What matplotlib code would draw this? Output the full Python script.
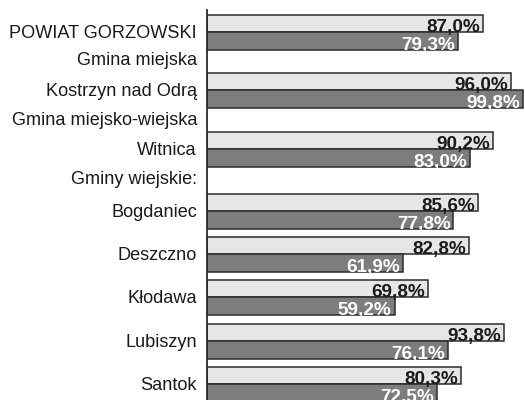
import matplotlib
matplotlib.use("Agg")
import matplotlib.pyplot as plt

# -----------------------------------------------------------------------------
# Data
# -----------------------------------------------------------------------------
bar_labels = ["POWIAT GORZOWSKI", "Kostrzyn nad Odrą", "Witnica", "Bogdaniec",
              "Deszczno", "Kłodawa", "Lubiszyn", "Santok"]
series_light = [87.0, 96.0, 90.2, 85.6, 82.8, 69.8, 93.8, 80.3]
series_dark = [79.3, 99.8, 83.0, 77.8, 61.9, 59.2, 76.1, 72.5]
header_labels = ["Gmina miejska", "Gmina miejsko-wiejska", "Gminy wiejskie:"]

# layout (pixel-like units, y grows downwards)
bar_rows = [32, 90, 149, 211, 254, 297, 341, 384]
header_rows = [59, 119, 178]
bar_h = 17.5

LIGHT = "#e6e6e8"
DARK = "#7d7d80"
EDGE = "#2b2b2b"

plt.rcParams['font.family'] = ['Liberation Sans', 'DejaVu Sans']

fig = plt.figure(figsize=(5.25, 4.0), dpi=100)
ax = fig.add_axes([207 / 525, 0.0, 318 / 525, 390 / 400])
ax.set_xlim(0, 100.4)
ax.set_ylim(400, 10)

ax.barh([r - bar_h / 2 for r in bar_rows], series_light, height=bar_h,
        color=LIGHT, edgecolor=EDGE, linewidth=1.1)
ax.barh([r + bar_h / 2 for r in bar_rows], series_dark, height=bar_h,
        color=DARK, edgecolor=EDGE, linewidth=1.1)

dx = 0.9
for r, a, b in zip(bar_rows, series_light, series_dark):
    ax.text(a - dx, r + 0.3, f"{a:.1f}%".replace(".", ","), ha="right",
            va="baseline", fontsize=13.6, fontweight="bold", color="#1a1a1a")
    ax.text(b - dx, r + bar_h + 0.3, f"{b:.1f}%".replace(".", ","), ha="right",
            va="baseline", fontsize=13.6, fontweight="bold", color="white")

# category labels on the left
trans = ax.get_yaxis_transform()
for r, lab in zip(bar_rows, bar_labels):
    ax.text(-10 / 318, r + 6.2, lab, transform=trans, ha="right", va="baseline",
            fontsize=13.1, color="#1a1a1a")
for r, lab in zip(header_rows, header_labels):
    ax.text(-10 / 318, r + 5.7, lab, transform=trans, ha="right", va="baseline",
            fontsize=13.1, color="#1a1a1a")

for s in ["top", "right", "bottom"]:
    ax.spines[s].set_visible(False)
ax.spines["left"].set_color(EDGE)
ax.spines["left"].set_linewidth(1.3)
ax.set_xticks([])
ax.set_yticks([])

fig.savefig("out.png", dpi=100)
